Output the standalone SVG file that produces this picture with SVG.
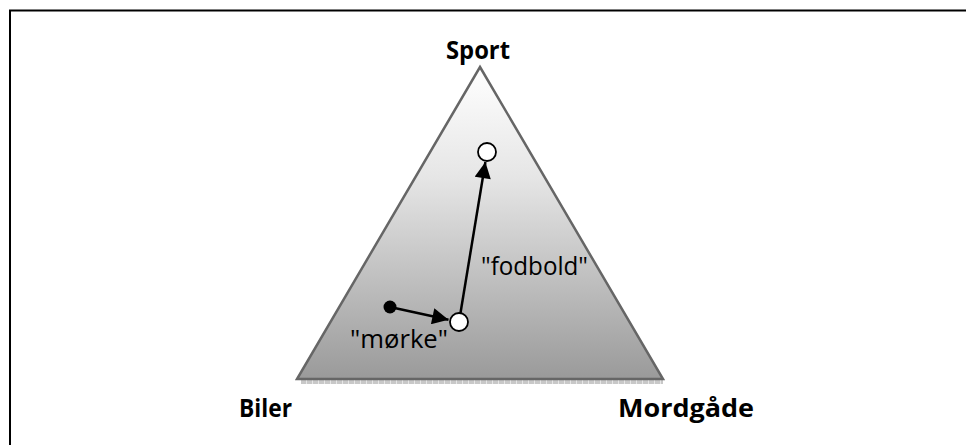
<svg xmlns="http://www.w3.org/2000/svg" width="966" height="445" viewBox="0 0 966 445">
  <style>
    .corner { font-family: "Open Sans", "Liberation Sans", sans-serif; font-weight: bold; font-size: 25px; fill: #000; }
    .label { font-family: "Open Sans", "Liberation Sans", sans-serif; font-size: 26px; fill: #000; }
    .conn { stroke: #000; stroke-width: 2.5; fill: none; marker-end: url(#arrow); }
    .state { fill: #fff; stroke: #000; stroke-width: 1.8; }
  </style>
  <defs>
    <linearGradient id="fade" x1="0" y1="0" x2="0" y2="1">
      <stop offset="0" stop-color="#ffffff"/>
      <stop offset="0.35" stop-color="#e6e6e6"/>
      <stop offset="1" stop-color="#9a9a9a"/>
    </linearGradient>
    <pattern id="hatch" width="6" height="4" patternUnits="userSpaceOnUse">
      <rect width="6" height="4" fill="#c8c8c8"/>
      <rect width="1" height="4" fill="#e6e6e6"/>
    </pattern>
    <marker id="arrow" viewBox="0 0 10 10" refX="10" refY="5" markerWidth="7" markerHeight="6.5" markerUnits="strokeWidth" orient="auto">
      <path d="M0,0 L10,5 L0,10 z" fill="#000"/>
    </marker>
  </defs>

  <rect width="966" height="445" fill="#fff"/>
  <!-- frame: left and top edges only -->
  <path d="M10,445 V10.5 H966" fill="none" stroke="#000" stroke-width="2"/>

  <!-- simplex triangle -->
  <g id="triangle">
    <rect x="301" y="380" width="362" height="4" fill="url(#hatch)"/>
    <polygon points="480,67 663,379 297,379" fill="url(#fade)" stroke="#666" stroke-width="2.5" stroke-linejoin="miter"/>
  </g>

  <g id="corner-sport"><text class="corner" x="478" y="59" text-anchor="middle" textLength="64" lengthAdjust="spacingAndGlyphs">Sport</text></g>
  <g id="corner-biler"><text class="corner" x="265.5" y="417" text-anchor="middle" textLength="53" lengthAdjust="spacingAndGlyphs">Biler</text></g>
  <g id="corner-mordgaade"><text class="corner" x="686" y="417" text-anchor="middle" textLength="136" lengthAdjust="spacingAndGlyphs">Mordgåde</text></g>

  <g id="connectors">
    <line class="conn" x1="390" y1="307" x2="448.5" y2="319.7"/>
    <line class="conn" x1="459" y1="322" x2="485.4" y2="162"/>
  </g>

  <g id="start"><circle cx="390" cy="307" r="6.5" fill="#000"/></g>
  <g id="mid"><circle class="state" cx="459" cy="322" r="9"/></g>
  <g id="end"><circle class="state" cx="487" cy="152" r="9"/></g>

  <g id="label-moerke"><text class="label" x="350" y="348" textLength="98" lengthAdjust="spacingAndGlyphs">"mørke"</text></g>
  <g id="label-fodbold"><text class="label" x="481" y="275" textLength="107" lengthAdjust="spacingAndGlyphs">"fodbold"</text></g>
</svg>
